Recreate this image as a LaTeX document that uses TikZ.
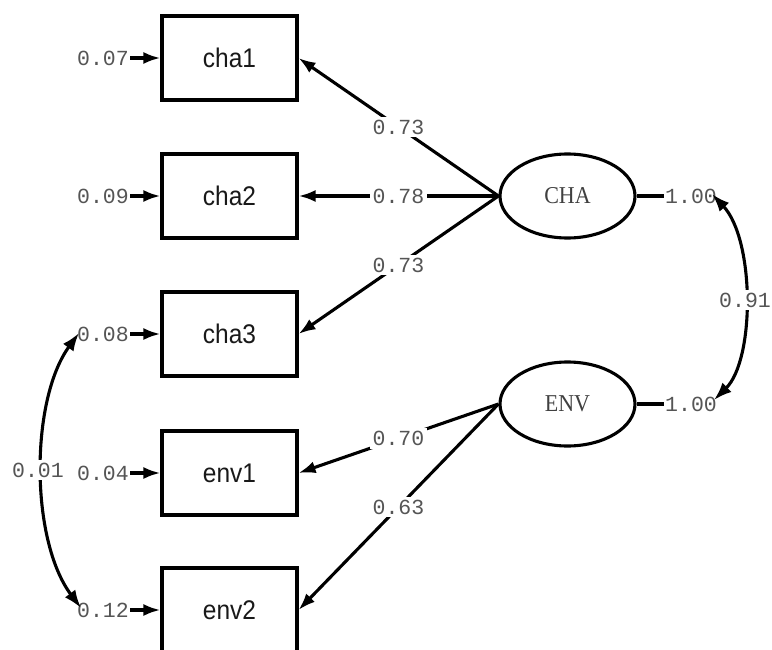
\documentclass[tikz,border=0pt]{standalone}
\usepackage{fontspec}
\usepackage{graphicx}
\setmainfont{Liberation Sans}
\newfontfamily\monof{Liberation Mono}
\newfontfamily\seriff{Liberation Serif}
\usetikzlibrary{arrows.meta,calc,shapes.geometric}
\definecolor{numgray}{HTML}{555555}
% slightly tall lettering for the variable names
\newcommand{\tallname}[1]{\scalebox{1}[1.1]{#1}}
\begin{document}
\begin{tikzpicture}[x=1pt,y=-1pt,
  thick line/.style={line width=3.1pt},
  tip/.style={-{Latex[length=17pt,width=12pt]}},
  twotip/.style={{Latex[length=18pt,width=13pt]}-{Latex[length=18pt,width=13pt]}},
  obsbox/.style={draw,line width=3.1pt,minimum width=135pt,minimum height=84pt,
    inner sep=0pt,font=\fontsize{24.5}{28}\selectfont,text=black!90},
  latent/.style={draw,ellipse,line width=3.1pt,minimum width=135pt,minimum height=84pt,
    inner sep=0pt,font=\seriff\fontsize{22}{26}\selectfont,text=black!75},
  numlab/.style={inner sep=1pt,font=\monof\fontsize{21.5}{24}\selectfont,text=numgray},
  pathlab/.style={numlab,fill=white,inner sep=3pt}
]
\useasboundingbox (0,0) rectangle (772,650);
\clip (0,0) rectangle (772,650);

% observed indicators
\node[obsbox] (cha1) at (229.5,58)  {\tallname{cha1}};
\node[obsbox] (cha2) at (229.5,196) {\tallname{cha2}};
\node[obsbox] (cha3) at (229.5,334) {\tallname{cha3}};
\node[obsbox] (env1) at (229.5,473) {\tallname{env1}};
\node[obsbox] (env2) at (229.5,610) {\tallname{env2}};

% latent factors
\node[latent] (CHA) at (567.5,196) {\tallname{CHA}};
\node[latent] (ENV) at (567.5,404) {\tallname{ENV}};

% error variances
\node[numlab,anchor=east] (e1) at (130,58)  {0.07};
\node[numlab,anchor=east] (e2) at (130,196) {0.09};
\node[numlab,anchor=east] (e3) at (130,334) {0.08};
\node[numlab,anchor=east] (e4) at (130,473) {0.04};
\node[numlab,anchor=east] (e5) at (130,610) {0.12};
\foreach \e/\b in {e1/cha1,e2/cha2,e3/cha3,e4/env1,e5/env2}
  \draw[thick line,tip] (\e.east) -- (\b.west);

% factor variances
\node[numlab,anchor=west] (v1) at (664,196) {1.00};
\node[numlab,anchor=west] (v2) at (664,404) {1.00};
\draw[thick line] (CHA.east) -- (v1.west);
\draw[thick line] (ENV.east) -- (v2.west);

% factor loadings
\draw[thick line,tip] (CHA.west) -- node[pathlab] {0.73} (cha1.east);
\draw[thick line,tip] (CHA.west) -- node[pathlab] {0.78} (cha2.east);
\draw[thick line,tip] (CHA.west) -- node[pathlab] {0.73} (cha3.east);
\draw[thick line,tip] (ENV.west) -- node[pathlab] {0.70} (env1.east);
\draw[thick line,tip] (ENV.west) -- node[pathlab] {0.63} (env2.east);

% covariances
\coordinate (c1) at ($(v1.east)+(-6,-2)$);
\coordinate (c2) at ($(v2.east)+(-4,-4)$);
\draw[thick line,twotip] (c1) .. controls (755,240) and (755,360) .. (c2);
\node[pathlab] (r91) at (745,300) {0.91};

\coordinate (c3) at ($(e3.west)+(3,-1)$);
\coordinate (c4) at ($(e5.west)+(5,-2)$);
\draw[thick line,twotip] (c3) .. controls (30,400) and (30,540) .. (c4);
\node[pathlab] (r01) at (38,470) {0.01};
\end{tikzpicture}
\end{document}
